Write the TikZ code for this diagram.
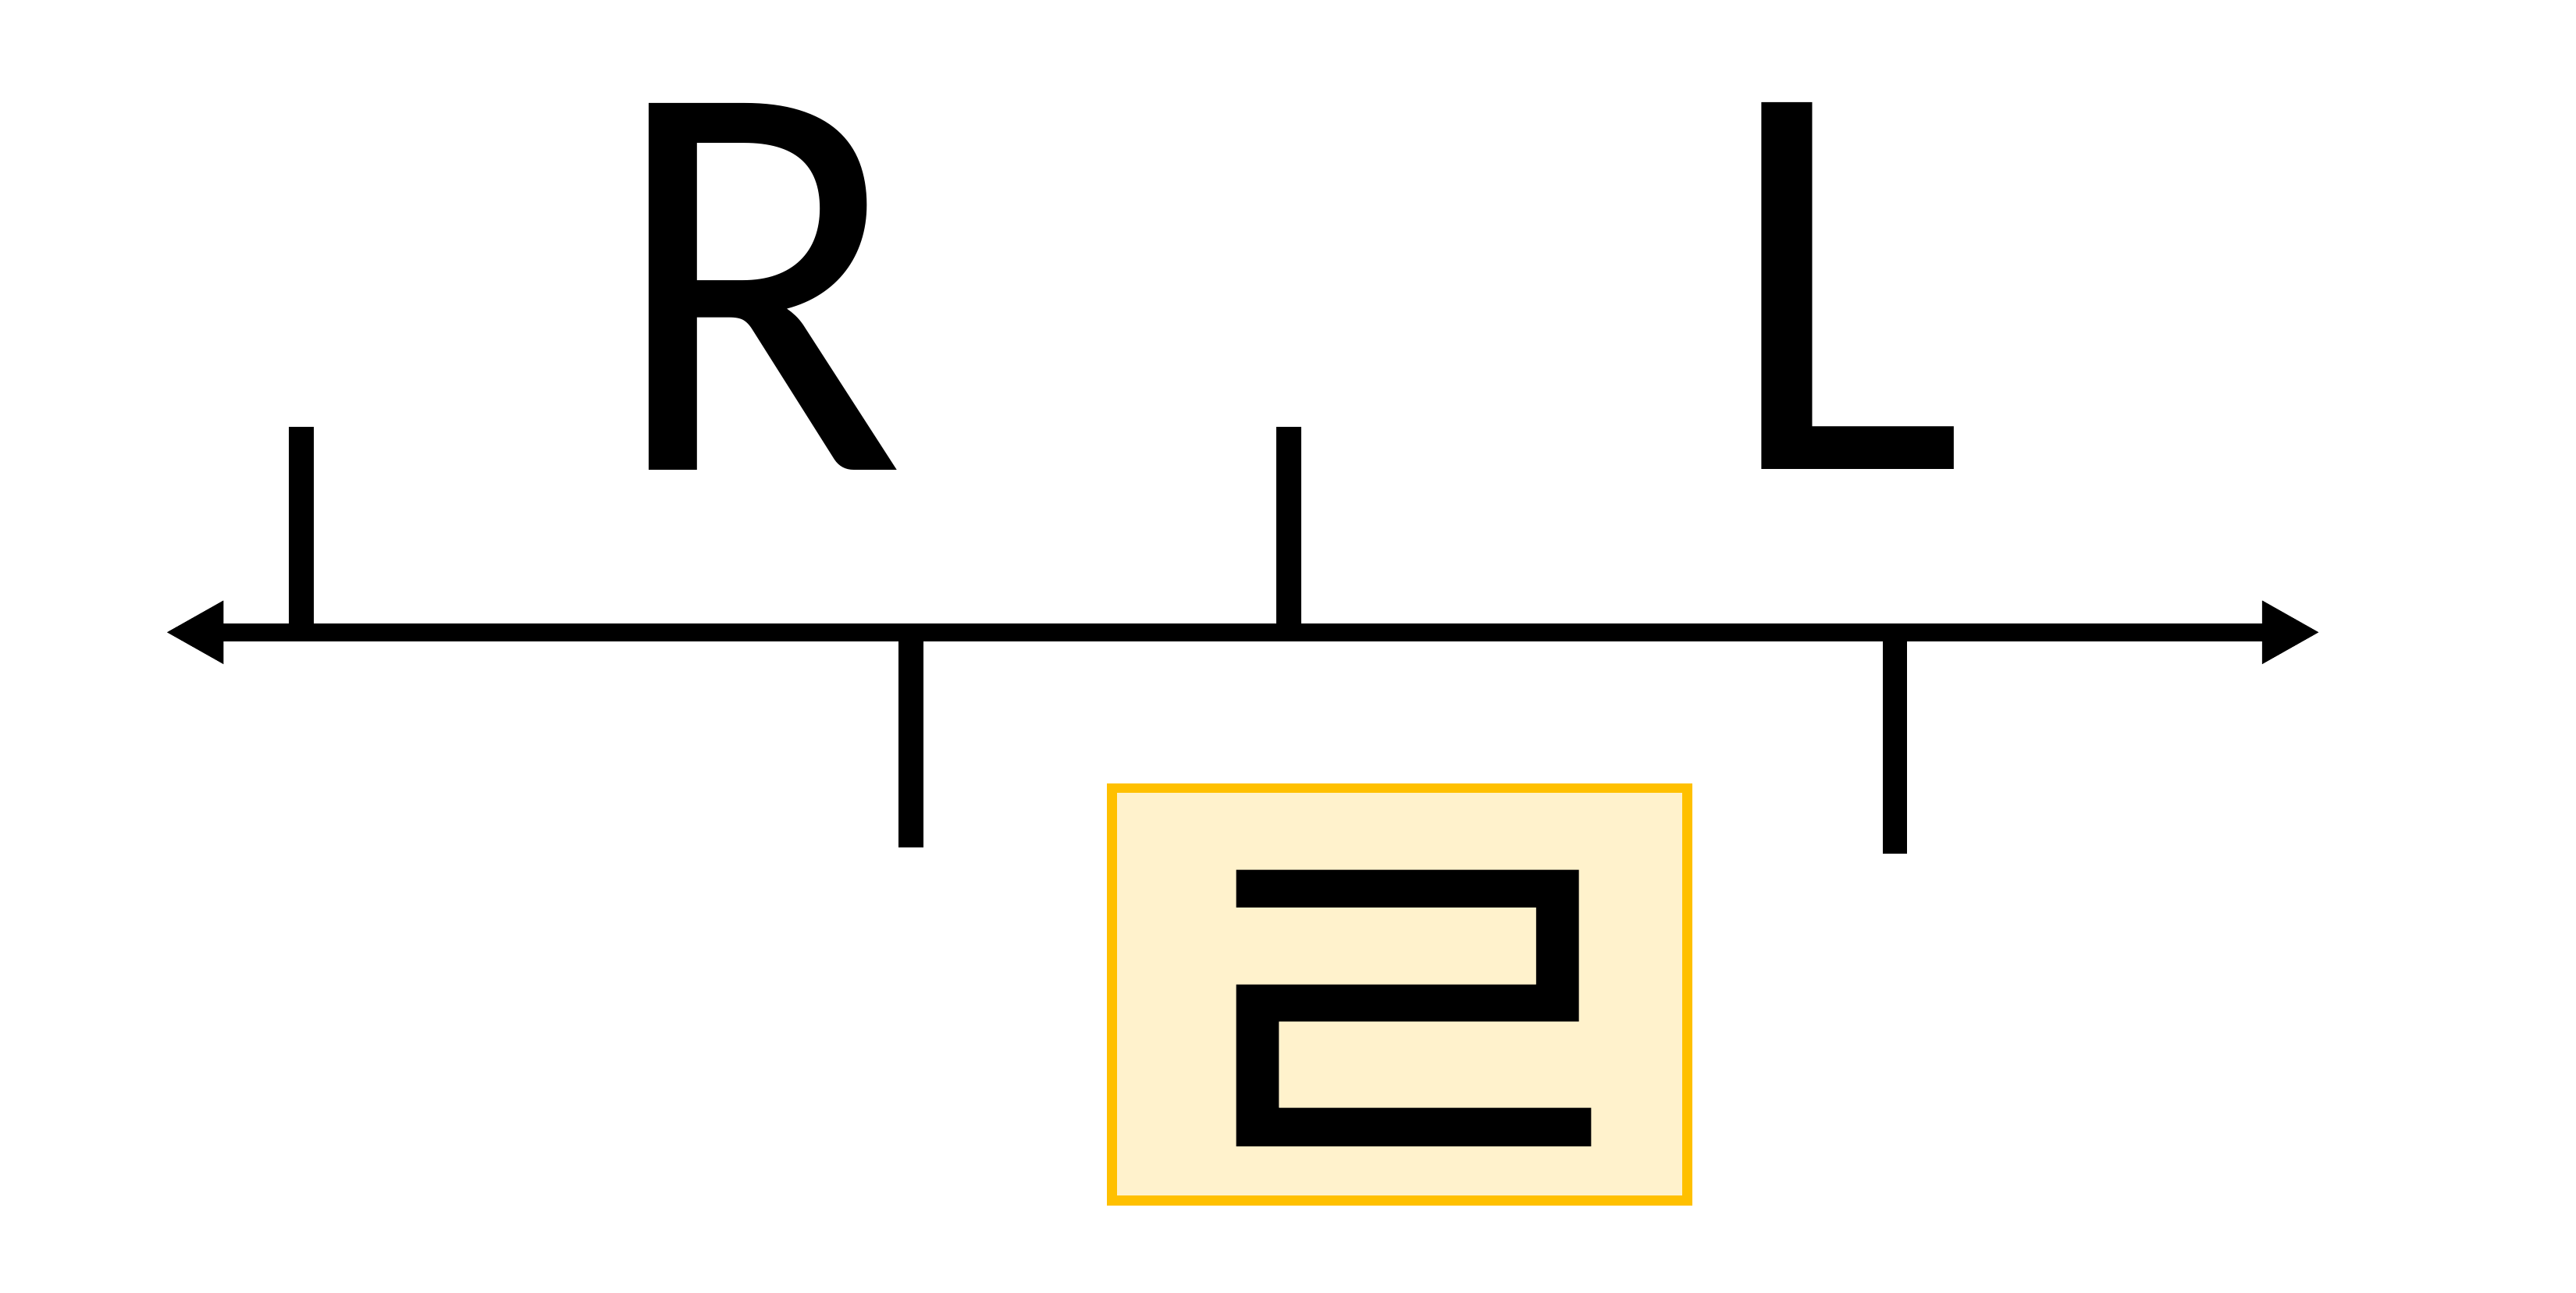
\documentclass[tikz,border=0pt]{standalone}
\usepackage{fontspec}
\setmainfont{Carlito}
\usetikzlibrary{arrows.meta}
\definecolor{boxedge}{HTML}{FFC000}
\definecolor{boxfill}{HTML}{FFF2CC}
\begin{document}
\begin{tikzpicture}[x=0.01cm,y=-0.01cm,
  axisline/.style={line width=3.1pt, {Triangle[length=0.35cm,width=0.36cm]}-{Triangle[length=0.35cm,width=0.36cm]}},
  tickbar/.style={line width=4.25pt, line cap=butt},
  letter/.style={font=\fontsize{99}{99}\selectfont, inner sep=0pt},
  yellowbox/.style={draw=boxedge, fill=boxfill, line width=1.7pt, minimum width=3.5cm, minimum height=2.51cm, inner sep=0pt}]
\useasboundingbox (0,0) rectangle (1568,787);
% axis
\coordinate (aL) at (101,385);
\coordinate (aR) at (1412,385);
\draw[axisline] (aL) -- (aR);
% ticks
\coordinate (t1a) at (183.5,260);  \coordinate (t1b) at (183.5,385);
\coordinate (t2a) at (554.5,385);  \coordinate (t2b) at (554.5,516);
\coordinate (t3a) at (784.5,260);  \coordinate (t3b) at (784.5,385);
\coordinate (t4a) at (1153.5,385); \coordinate (t4b) at (1153.5,520);
\draw[tickbar] (t1a) -- (t1b);
\draw[tickbar] (t2a) -- (t2b);
\draw[tickbar] (t3a) -- (t3b);
\draw[tickbar] (t4a) -- (t4b);
% letters
\node[letter, xscale=0.95] (R) at (461,174.5) {R};
\node[letter] (L) at (1122,174) {L};
% box with blocky 2
\node[yellowbox] (box) at (852,605.5) {};
\fill[black] (752.5,529.6) -- (961,529.6) -- (961,622) -- (778.5,622) -- (778.5,674.5)
  -- (968.5,674.5) -- (968.5,698) -- (752.5,698) -- (752.5,599.4) -- (935,599.4)
  -- (935,552.5) -- (752.5,552.5) -- cycle;
\end{tikzpicture}
\end{document}
